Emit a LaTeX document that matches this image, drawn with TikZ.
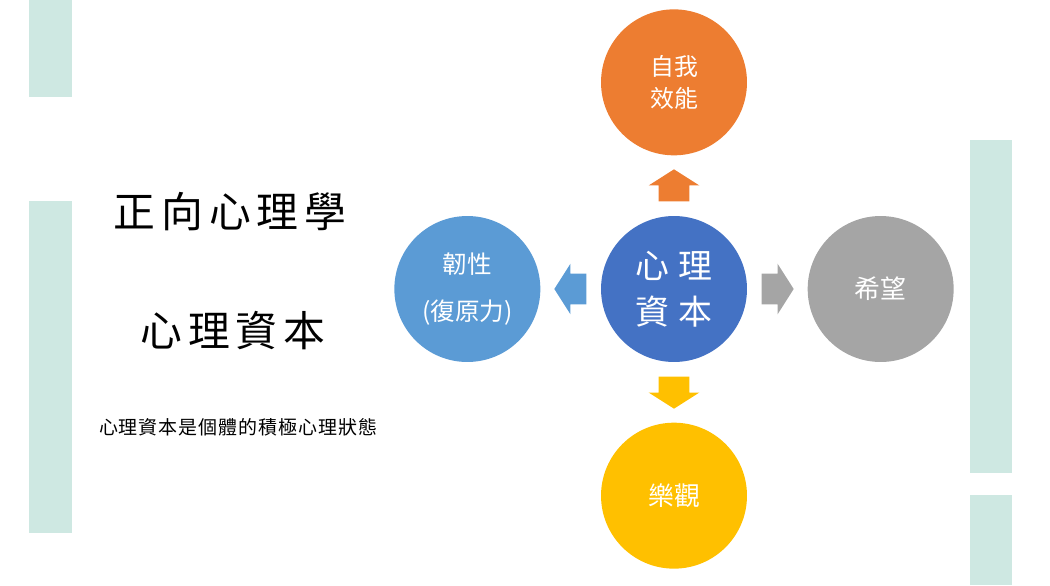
\documentclass[tikz,border=0pt]{standalone}
\usepackage{fontspec}
\setmainfont{Noto Sans CJK TC}
\usetikzlibrary{shapes.arrows, positioning, calc}
\definecolor{capblue}{HTML}{4472C4}
\definecolor{resblue}{HTML}{5B9BD5}
\definecolor{effor}{HTML}{ED7D31}
\definecolor{hopegray}{HTML}{A5A5A5}
\definecolor{optyel}{HTML}{FFC000}
\definecolor{barteal}{RGB}{206,232,226}
\tikzset{every node/.append style={align=center, inner sep=3pt}}
\begin{document}
\begin{tikzpicture}[x=0.02cm, y=-0.02cm, node distance=1.2cm,
    c/.style={circle, minimum size=2.92cm, inner sep=0pt, text=white},
    ar/.style={single arrow, draw=none, inner sep=0pt, inner ysep=0.3cm, minimum width=1cm,
      minimum height=0.64cm, single arrow head extend=0.2cm, single arrow tip angle=115, anchor=tail},
    bar/.style={fill=barteal}]
\useasboundingbox (0,0) rectangle (1050,585);
% side bars
\fill[bar] (29,0) rectangle (72,97);
\fill[bar] (29,201) rectangle (72,533);
\fill[bar] (970,140) rectangle (1012,473);
\fill[bar] (970,495) rectangle (1012,585);
% titles
\node[font=\fontsize{23.8pt}{28pt}\selectfont\addfontfeature{LetterSpace=14}] (field) at (230,212) {正向心理學};
\node[font=\fontsize{23.8pt}{28pt}\selectfont\addfontfeature{LetterSpace=14}] (topic) at (233,331) {心理資本};
\node[font=\fontsize{10.8pt}{13pt}\selectfont\addfontfeature{LetterSpace=5}] (defn) at (238,427) {心理資本是個體的積極心理狀態};
% circles
\node[c, fill=capblue, font=\fontsize{19.3pt}{26pt}\selectfont\addfontfeature{LetterSpace=25}] (core) at (674,289) {心理\\資本};
\node[c, fill=effor, font=\fontsize{13.6pt}{18pt}\selectfont, above=of core] (eff) {自我\\效能};
\node[c, fill=resblue, font=\fontsize{14pt}{27pt}\selectfont, left=of core] (resil) {韌性\\(復原力)};
\node[c, fill=hopegray, font=\fontsize{14.7pt}{18pt}\selectfont, right=of core] (hope) {希望};
\node[c, fill=optyel, font=\fontsize{14.7pt}{18pt}\selectfont, below=of core] (optim) {樂觀};
% arrows
\node[ar, fill=effor, rotate=90] (toeff) at ($(core.north)!0.28cm!(eff.south)$) {};
\node[ar, fill=resblue, rotate=180] (toresil) at ($(core.west)!0.28cm!(resil.east)$) {};
\node[ar, fill=hopegray] (tohope) at ($(core.east)!0.28cm!(hope.west)$) {};
\node[ar, fill=optyel, rotate=270] (tooptim) at ($(core.south)!0.28cm!(optim.north)$) {};
\end{tikzpicture}
\end{document}
